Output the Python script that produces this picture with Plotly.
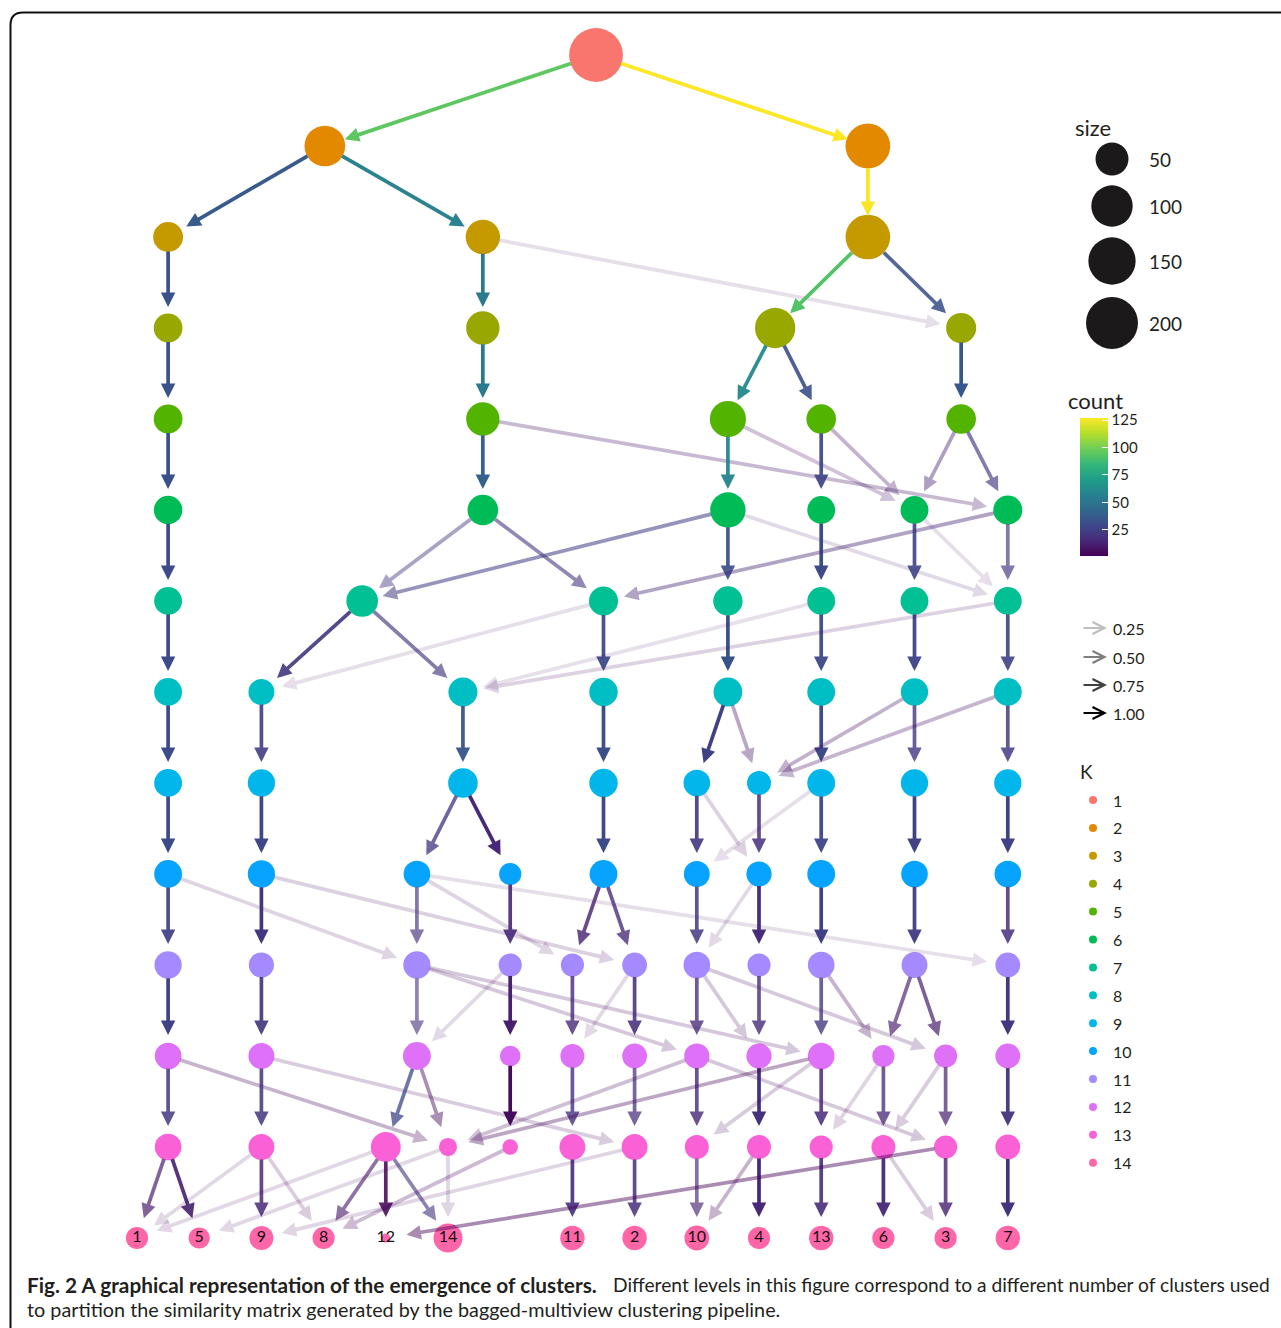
import plotly.graph_objects as go
from plotly.colors import sample_colorscale

W, H = 1281, 1328

# ---------------------------------------------------------------------------
# Cluster tree: one list per resolution K (1..14)
# node horizontal slot (layout units) and node size (samples)
# ---------------------------------------------------------------------------
level_x = {
    1: [7.38],
    2: [3.02, 11.75],
    3: [0.5, 5.56, 11.75],
    4: [0.5, 5.56, 10.26, 13.25],
    5: [0.5, 5.56, 9.5, 11.0, 13.25],
    6: [0.5, 5.56, 9.5, 11.0, 12.5, 14.0],
    7: [0.5, 3.62, 7.5, 9.5, 11.0, 12.5, 14.0],
    8: [0.5, 2.0, 5.24, 7.5, 9.5, 11.0, 12.5, 14.0],
    9: [0.5, 2.0, 5.24, 7.5, 9.0, 10.0, 11.0, 12.5, 14.0],
    10: [0.5, 2.0, 4.5, 6.0, 7.5, 9.0, 10.0, 11.0, 12.5, 14.0],
    11: [0.5, 2.0, 4.5, 6.0, 7.0, 8.0, 9.0, 10.0, 11.0, 12.5, 14.0],
    12: [0.5, 2.0, 4.5, 6.0, 7.0, 8.0, 9.0, 10.0, 11.0, 12.0, 13.0, 14.0],
    13: [0.5, 2.0, 4.0, 5.0, 6.0, 7.0, 8.0, 9.0, 10.0, 11.0, 12.0, 13.0, 14.0],
    14: [0.0, 1.0, 2.0, 3.0, 4.0, 5.0, 7.0, 8.0, 9.0, 10.0, 11.0, 12.0, 13.0, 14.0],
}

level_size = {
    1: [222],
    2: [95, 127],
    3: [37, 57, 126],
    4: [33, 52, 92, 38],
    5: [33, 52, 66, 36, 36],
    6: [32, 40, 62, 30, 30, 34],
    7: [30, 44, 34, 35, 30, 30, 30],
    8: [30, 24, 34, 32, 33, 30, 28, 30],
    9: [30, 28, 36, 32, 26, 19, 30, 28, 28],
    10: [30, 28, 26, 15, 30, 24, 22, 30, 26, 26],
    11: [28, 22, 28, 17, 17, 21, 26, 17, 26, 24, 21],
    12: [26, 24, 30, 12, 19, 21, 22, 22, 26, 15, 17, 21],
    13: [26, 24, 37, 8, 5, 24, 24, 19, 19, 17, 19, 17, 21],
    14: [15, 13, 19, 15, 1, 34, 20, 20, 21, 15, 20, 15, 15, 20],
}

# final-level cluster labels
final_labels = ["1", "5", "9", "8", "12", "14", "11", "2", "10", "4", "13", "6", "3", "7"]

# edges: (K of parent, parent index, child index at K+1, count, in_prop)
edges = [
    (1, 0, 0, 95, 1.0), (1, 0, 1, 127, 1.0),
    (2, 0, 0, 37, 1.0), (2, 0, 1, 56, 0.98), (2, 1, 2, 126, 1.0),
    (3, 0, 0, 33, 1.0), (3, 1, 1, 52, 1.0), (3, 1, 3, 5, 0.13),
    (3, 2, 2, 92, 1.0), (3, 2, 3, 33, 0.87),
    (4, 0, 0, 33, 1.0), (4, 1, 1, 52, 1.0), (4, 2, 2, 60, 0.95),
    (4, 2, 3, 32, 0.9), (4, 3, 4, 36, 1.0),
    (5, 0, 0, 32, 1.0), (5, 1, 1, 40, 1.0), (5, 1, 5, 10, 0.3),
    (5, 2, 2, 58, 0.95), (5, 2, 4, 7, 0.25), (5, 3, 3, 27, 0.92),
    (5, 3, 4, 9, 0.32), (5, 4, 4, 13, 0.43), (5, 4, 5, 23, 0.66),
    (6, 0, 0, 30, 1.0), (6, 1, 1, 20, 0.45), (6, 1, 2, 20, 0.58),
    (6, 2, 1, 24, 0.55), (6, 2, 3, 32, 0.92), (6, 2, 6, 5, 0.15),
    (6, 3, 4, 30, 1.0), (6, 4, 5, 27, 0.9), (6, 4, 6, 4, 0.13),
    (6, 5, 2, 14, 0.42), (6, 5, 6, 20, 0.66),
    (7, 0, 0, 30, 1.0), (7, 1, 1, 22, 0.9), (7, 1, 2, 22, 0.65),
    (7, 2, 1, 3, 0.13), (7, 2, 3, 30, 0.95), (7, 3, 4, 33, 1.0),
    (7, 4, 5, 28, 0.95), (7, 4, 2, 4, 0.12), (7, 5, 6, 28, 0.97),
    (7, 6, 7, 26, 0.9), (7, 6, 2, 6, 0.18),
    (8, 0, 0, 30, 1.0), (8, 1, 1, 24, 0.9), (8, 2, 2, 34, 0.95),
    (8, 3, 3, 32, 1.0), (8, 4, 4, 26, 1.0), (8, 4, 5, 7, 0.37),
    (8, 5, 6, 30, 1.0), (8, 6, 5, 6, 0.32), (8, 6, 7, 22, 0.8),
    (8, 7, 5, 6, 0.3), (8, 7, 8, 24, 0.85),
    (9, 0, 0, 30, 1.0), (9, 1, 1, 28, 1.0), (9, 2, 2, 20, 0.75),
    (9, 2, 3, 15, 1.0), (9, 3, 4, 30, 1.0), (9, 4, 5, 22, 0.9),
    (9, 4, 6, 4, 0.18), (9, 5, 6, 18, 0.85), (9, 6, 5, 3, 0.13),
    (9, 6, 7, 27, 0.95), (9, 7, 8, 26, 1.0), (9, 8, 9, 26, 1.0),
    (10, 0, 0, 25, 0.92), (10, 0, 2, 4, 0.17), (10, 1, 1, 22, 1.0),
    (10, 1, 5, 4, 0.18), (10, 2, 2, 18, 0.65), (10, 2, 4, 3, 0.17),
    (10, 2, 10, 3, 0.13), (10, 3, 3, 15, 0.9), (10, 4, 4, 14, 0.82),
    (10, 4, 5, 16, 0.78), (10, 5, 6, 22, 0.85), (10, 6, 6, 4, 0.15),
    (10, 6, 7, 17, 1.0), (10, 7, 8, 26, 1.0), (10, 8, 9, 24, 0.95),
    (10, 9, 10, 18, 0.85),
    (11, 0, 0, 26, 1.0), (11, 1, 1, 22, 0.92), (11, 2, 2, 18, 0.6),
    (11, 2, 6, 5, 0.22), (11, 2, 8, 5, 0.22), (11, 3, 2, 4, 0.15),
    (11, 3, 3, 12, 1.0), (11, 4, 4, 15, 0.8), (11, 5, 4, 3, 0.15),
    (11, 5, 5, 18, 0.88), (11, 6, 6, 17, 0.78), (11, 6, 7, 5, 0.22),
    (11, 6, 10, 4, 0.22), (11, 7, 7, 17, 0.8), (11, 8, 8, 20, 0.78),
    (11, 8, 9, 5, 0.3), (11, 9, 9, 10, 0.65), (11, 9, 10, 12, 0.7),
    (11, 10, 11, 21, 1.0),
    (12, 0, 0, 22, 0.85), (12, 0, 3, 3, 0.3), (12, 1, 1, 20, 0.85),
    (12, 1, 6, 4, 0.2), (12, 2, 2, 28, 0.75), (12, 2, 3, 4, 0.45),
    (12, 3, 4, 5, 1.0), (12, 4, 5, 19, 0.8), (12, 5, 6, 17, 0.72),
    (12, 6, 7, 15, 0.8), (12, 6, 3, 2, 0.25), (12, 6, 11, 4, 0.22),
    (12, 7, 8, 19, 1.0), (12, 8, 9, 15, 0.85), (12, 8, 7, 4, 0.2),
    (12, 8, 3, 2, 0.35), (12, 9, 10, 14, 0.75), (12, 9, 9, 3, 0.17),
    (12, 10, 11, 12, 0.7), (12, 10, 10, 4, 0.2), (12, 11, 12, 20, 0.95),
    (13, 0, 0, 10, 0.68), (13, 0, 1, 12, 0.9), (13, 1, 2, 16, 0.85),
    (13, 1, 3, 3, 0.2), (13, 1, 0, 2, 0.15), (13, 2, 3, 9, 0.6),
    (13, 2, 4, 1, 0.85), (13, 2, 5, 20, 0.6), (13, 2, 0, 2, 0.15),
    (13, 3, 5, 5, 0.17), (13, 3, 1, 2, 0.15), (13, 4, 3, 4, 0.27),
    (13, 5, 6, 18, 0.9), (13, 6, 7, 17, 0.85), (13, 6, 2, 3, 0.16),
    (13, 7, 8, 14, 0.65), (13, 8, 9, 15, 1.0), (13, 8, 8, 5, 0.3),
    (13, 9, 10, 17, 0.9), (13, 10, 11, 14, 0.95), (13, 10, 12, 3, 0.2),
    (13, 11, 12, 12, 0.8), (13, 11, 4, 1, 0.45), (13, 12, 13, 20, 1.0),
]

# discrete colour per resolution K
k_colors = ["#F8766D", "#E38900", "#C49A00", "#99A800", "#53B400", "#00BC56",
            "#00C094", "#00BFC4", "#00B6EB", "#06A4FF", "#A58AFF", "#DF70F8",
            "#FB61D7", "#FF66A8"]

size_breaks = [50, 100, 150, 200]
count_ticks = [25, 50, 75, 100, 125]
count_range = (1, 127)
prop_breaks = [0.25, 0.50, 0.75, 1.00]

FONT = "Lato"
INK = "#231f20"


def node_diameter(v):
    # point area scale used for node sizes
    return 9.14 * v ** 0.328


def edge_rgba(count, prop):
    t = (count - count_range[0]) / (count_range[1] - count_range[0])
    rgb = sample_colorscale("Viridis", [min(max(t, 0), 1)])[0]
    vals = rgb[rgb.index("(") + 1:rgb.index(")")].split(",")
    r, g, b = [int(round(float(v))) for v in vals]
    return f"rgba({r},{g},{b},{prop})"


fig = go.Figure()

# edges as arrows in data coordinates
for (k, i, j, c, p) in edges:
    r0 = node_diameter(level_size[k][i]) / 2
    fig.add_annotation(
        x=level_x[k + 1][j], y=k + 1, ax=level_x[k][i], ay=k,
        xref="x", yref="y", axref="x", ayref="y",
        text="", showarrow=True, arrowhead=2, arrowsize=0.78, arrowwidth=3.7,
        arrowcolor=edge_rgba(c, p), standoff=21, startstandoff=r0 - 2,
    )

# nodes, one trace per resolution
for k in range(1, 15):
    xs = level_x[k]
    sizes = [node_diameter(v) for v in level_size[k]]
    tr = dict(x=xs, y=[k] * len(xs), mode="markers",
              marker=dict(size=sizes, color=k_colors[k - 1], line=dict(width=0), opacity=1),
              hoverinfo="skip", showlegend=False, xaxis="x", yaxis="y")
    if k == 14:
        tr.update(mode="markers+text", text=final_labels, textposition="middle center",
                  textfont=dict(family=FONT, size=16, color="#111111"))
    fig.add_trace(go.Scatter(**tr))

# colour bar for edge counts
fig.add_trace(go.Scatter(
    x=[level_x[1][0]], y=[1], mode="markers", hoverinfo="skip", showlegend=False,
    marker=dict(size=0.1, color=[count_range[0]], colorscale="Viridis",
                cmin=count_range[0], cmax=count_range[1], showscale=True,
                colorbar=dict(x=1080 / W, xanchor="left", xpad=0,
                              y=1 - 418 / H, yanchor="top", ypad=0,
                              len=138, lenmode="pixels", thickness=28,
                              thicknessmode="pixels", outlinewidth=0,
                              tickvals=count_ticks, ticks="inside", ticklen=6,
                              tickcolor="white", tickwidth=1.2,
                              tickfont=dict(family=FONT, size=15, color=INK))),
))

# ---- legend keys drawn on a pixel-scaled overlay axis ----
size_key_y = [159, 206, 261, 323]
fig.add_trace(go.Scatter(
    x=[1112] * 4, y=size_key_y, mode="markers", hoverinfo="skip", showlegend=False,
    marker=dict(size=[node_diameter(v) for v in size_breaks], color="#1b191a",
                opacity=1, line=dict(width=0)),
    xaxis="x2", yaxis="y2"))
for v, yy in zip(size_breaks, size_key_y):
    fig.add_annotation(x=1147, y=yy, xref="x2", yref="y2", text=str(v), showarrow=False,
                       xanchor="left", yanchor="middle",
                       font=dict(family=FONT, size=19, color=INK))
fig.add_annotation(x=1073, y=127, xref="x2", yref="y2", text="size", showarrow=False,
                   xanchor="left", yanchor="middle", font=dict(family=FONT, size=22, color=INK))
fig.add_annotation(x=1066, y=400, xref="x2", yref="y2", text="count", showarrow=False,
                   xanchor="left", yanchor="middle", font=dict(family=FONT, size=22, color=INK))

prop_key_y = [628, 657, 685, 713]
for v, yy in zip(prop_breaks, prop_key_y):
    fig.add_annotation(x=1107, y=yy, ax=1082, ay=yy, xref="x2", yref="y2",
                       axref="x2", ayref="y2", text="", showarrow=True,
                       arrowhead=5, arrowsize=1.3, arrowwidth=1.8,
                       arrowcolor=f"rgba(0,0,0,{v})")
    fig.add_annotation(x=1111, y=yy, xref="x2", yref="y2", text=f"{v:.2f}", showarrow=False,
                       xanchor="left", yanchor="middle", font=dict(family=FONT, size=16, color=INK))

k_key_y = [800 + 27.9 * i for i in range(14)]
fig.add_trace(go.Scatter(
    x=[1093] * 14, y=k_key_y, mode="markers", hoverinfo="skip", showlegend=False,
    marker=dict(size=8, color=k_colors, opacity=1), xaxis="x2", yaxis="y2"))
for i, yy in enumerate(k_key_y):
    fig.add_annotation(x=1111, y=yy, xref="x2", yref="y2", text=str(i + 1), showarrow=False,
                       xanchor="left", yanchor="middle", font=dict(family=FONT, size=16, color=INK))
fig.add_annotation(x=1078, y=771, xref="x2", yref="y2", text="K", showarrow=False,
                   xanchor="left", yanchor="middle", font=dict(family=FONT, size=19, color=INK))

# caption
fig.add_annotation(
    x=25, y=1284, xref="x2", yref="y2", showarrow=False, xanchor="left", yanchor="middle",
    text="<b>Fig. 2 A graphical representation of the emergence of clusters.</b>",
    font=dict(family=FONT, size=20.8, color=INK))
fig.add_annotation(
    x=611, y=1284, xref="x2", yref="y2", showarrow=False, xanchor="left", yanchor="middle",
    text="Different levels in this figure correspond to a different number of clusters used",
    font=dict(family=FONT, size=19.2, color=INK))
fig.add_annotation(
    x=25, y=1309, xref="x2", yref="y2", showarrow=False, xanchor="left", yanchor="middle",
    text="to partition the similarity matrix generated by the bagged-multiview clustering pipeline.",
    font=dict(family=FONT, size=19.8, color=INK))

# panel frame (rounded top-left corner)
fig.add_shape(type="path", xref="x2", yref="y2",
              path="M 10.5,1335 L 10.5,25 Q 10.5,12.5 23,12.5 L 1290,12.5",
              line=dict(color="#111111", width=2))

u = 62.2   # px per layout unit
x_lo = -137 / u
x_hi = (W - 137) / u
fig.update_layout(
    width=W, height=H, autosize=False,
    margin=dict(l=0, r=0, t=0, b=0, pad=0),
    paper_bgcolor="white", plot_bgcolor="white",
    xaxis=dict(range=[x_lo, x_hi], visible=False, fixedrange=True, domain=[0, 1]),
    yaxis=dict(range=[1 + (H - 55) / 91, 1 - 55 / 91], visible=False, fixedrange=True,
               domain=[0, 1]),
    xaxis2=dict(range=[0, W], overlaying="x", visible=False, fixedrange=True),
    yaxis2=dict(range=[H, 0], overlaying="y", visible=False, fixedrange=True),
    showlegend=False,
)

fig.write_html("out.html")
